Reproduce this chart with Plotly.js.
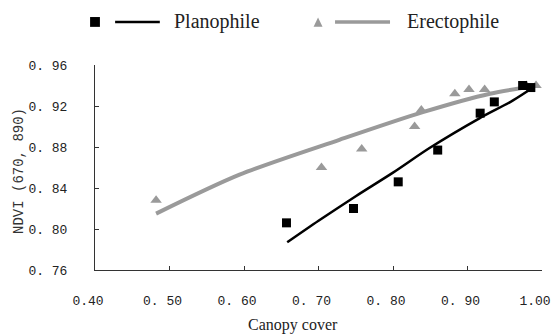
<!DOCTYPE html>
<html><head><meta charset="utf-8">
<script src="https://cdn.plot.ly/plotly-3.0.1.min.js"></script>
<style>html,body{margin:0;padding:0;background:#fff;}#chart{width:558px;height:336px;}</style>
</head><body><div id="chart"></div>
<script>
// Observed points
const planoX = [0.657, 0.747, 0.807, 0.860, 0.917, 0.936, 0.974, 0.985];
const planoY = [0.806, 0.820, 0.846, 0.877, 0.913, 0.924, 0.940, 0.938];
const erectX = [0.482, 0.704, 0.758, 0.829, 0.838, 0.883, 0.902, 0.923, 0.979, 0.992];
const erectY = [0.828, 0.860, 0.878, 0.900, 0.916, 0.932, 0.936, 0.936, 0.940, 0.940];
// Fitted curves
const planoFitX = [0.658, 0.70, 0.75, 0.80, 0.849, 0.916, 0.960, 0.990];
const planoFitY = [0.787, 0.808, 0.832, 0.855, 0.879, 0.908, 0.925, 0.939];
const erectFitX = [0.482, 0.594, 0.728, 0.840, 0.930, 0.995];
const erectFitY = [0.815, 0.853, 0.887, 0.914, 0.932, 0.940];
// Tick labels
const xTickVals = [0.40, 0.50, 0.60, 0.70, 0.80, 0.90, 1.00];
const xTickText = ["0.40", "0. 50", "0. 60", "0. 70", "0. 80", "0. 90", "1.00"];
const yTickVals = [0.76, 0.80, 0.84, 0.88, 0.92, 0.96];
const yTickText = ["0. 76", "0. 80", "0. 84", "0. 88", "0. 92", "0. 96"];

const gray = '#9a9a9a';
const traces = [
  {x: erectFitX, y: erectFitY, mode: 'lines', line: {color: gray, width: 4, shape: 'spline', smoothing: 0.8}, name: 'Erectophile fit', showlegend: false},
  {x: planoFitX, y: planoFitY, mode: 'lines', line: {color: '#000', width: 2.5, shape: 'spline', smoothing: 0.8}, name: 'Planophile fit', showlegend: false},
  {x: erectX, y: erectY, mode: 'markers', marker: {symbol: 'triangle-up', size: 10, color: gray}, name: 'Erectophile', showlegend: false},
  {x: planoX, y: planoY, mode: 'markers', marker: {symbol: 'square', size: 9, color: '#000'}, name: 'Planophile', showlegend: false}
];

const serif = 'Liberation Serif, Times New Roman, serif';
const mono = 'Liberation Mono, DejaVu Sans Mono, monospace';

const layout = {
  width: 558, height: 336,
  margin: {l: 95, r: 16, t: 65, b: 66},
  paper_bgcolor: '#fff', plot_bgcolor: '#fff',
  showlegend: false,
  xaxis: {
    range: [0.40, 1.00], tickvals: xTickVals, ticktext: xTickText,
    showgrid: false, zeroline: false, showline: true, linecolor: '#333', linewidth: 1,
    ticks: 'inside', ticklen: 4, tickcolor: '#333',
    tickfont: {family: mono, size: 13, color: '#222'}, ticklabelstandoff: 18, ticklabelshift: -7
  },
  yaxis: {
    range: [0.76, 0.96], tickvals: yTickVals, ticktext: yTickText,
    showgrid: false, zeroline: false, showline: true, linecolor: '#333', linewidth: 1,
    ticks: 'inside', ticklen: 4, tickcolor: '#333',
    tickfont: {family: mono, size: 13, color: '#222'}, ticklabelstandoff: 24
  },
  annotations: [
    {xref: 'paper', yref: 'paper', x: -0.17, y: 0.483, text: 'NDVI (670, 890)', textangle: -90, showarrow: false,
     font: {family: mono, size: 14, color: '#333'}, xanchor: 'center', yanchor: 'middle'},
    {xref: 'paper', yref: 'paper', x: 0.443, y: -0.27, text: 'Canopy cover', showarrow: false,
     font: {family: serif, size: 16, color: '#222'}, xanchor: 'center', yanchor: 'middle'},
    {xref: 'paper', yref: 'paper', x: 0.172, y: 1.21, text: 'Planophile', showarrow: false,
     font: {family: serif, size: 20, color: '#222'}, xanchor: 'left', yanchor: 'middle'},
    {xref: 'paper', yref: 'paper', x: 0.694, y: 1.21, text: 'Erectophile', showarrow: false,
     font: {family: serif, size: 20, color: '#222'}, xanchor: 'left', yanchor: 'middle'}
  ],
  shapes: [
    {type: 'rect', xref: 'paper', yref: 'paper', x0: -0.011, x1: 0.011, y0: 1.21 - 0.024, y1: 1.21 + 0.024, fillcolor: '#000', line: {width: 0}},
    {type: 'line', xref: 'paper', yref: 'paper', x0: 0.045, x1: 0.145, y0: 1.21, y1: 1.21, line: {color: '#000', width: 2.5}},
    {type: 'path', xref: 'paper', yref: 'paper', path: 'M 0.489 1.187 L 0.509 1.187 L 0.499 1.232 Z', fillcolor: gray, line: {width: 0}},
    {type: 'line', xref: 'paper', yref: 'paper', x0: 0.537, x1: 0.66, y0: 1.21, y1: 1.21, line: {color: gray, width: 3.5}}
  ]
};

Plotly.newPlot('chart', traces, layout, {displayModeBar: false, staticPlot: true});
</script>
</body></html>
